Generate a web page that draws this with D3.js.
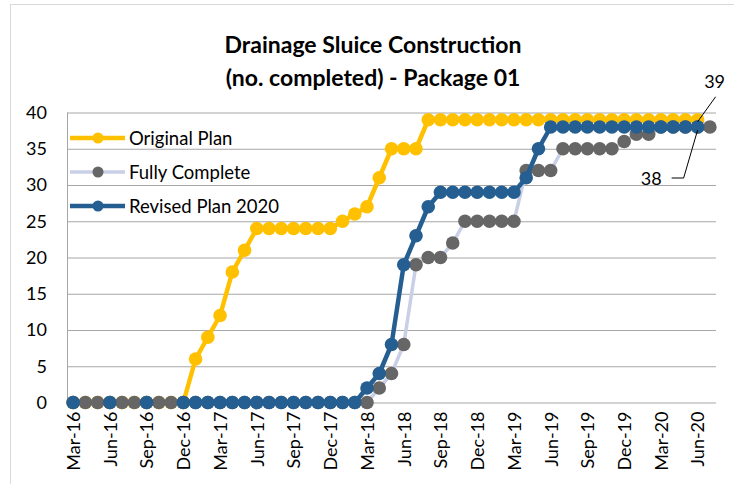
<!DOCTYPE html>
<html>
<head>
<meta charset="utf-8">
<script src="https://cdn.jsdelivr.net/npm/d3@7"></script>
<style>
  html, body { margin: 0; padding: 0; background: #fff; }
  svg { display: block; font-family: Lato, "Open Sans", sans-serif; }
</style>
</head>
<body>
<script>
// months Mar-16 .. Jul-20 (one point per month)
const months = d3.utcMonth.range(new Date(Date.UTC(2016, 2, 1)), new Date(Date.UTC(2020, 7, 1)))
    .map(d3.utcFormat('%b-%y'));
const tickMonths = months.filter((m, i) => i % 3 === 0 && i < 52); // Mar-16 .. Jun-20
const yTicks = [0, 5, 10, 15, 20, 25, 30, 35, 40];

const originalPlan = [
  0, 0, 0, 0, 0, 0, 0, 0, 0, 0,
  6, 9, 12, 18, 21,
  24, 24, 24, 24, 24, 24, 24,
  25, 26, 27, 31, 35, 35, 35,
  39, 39, 39, 39, 39, 39, 39, 39, 39, 39, 39, 39, 39, 39, 39, 39, 39, 39, 39, 39, 39, 39, 39,
  null
];
const fullyComplete = [
  0, 0, 0, 0, 0, 0, 0, 0, 0, 0, 0, 0, 0, 0, 0, 0, 0, 0, 0, 0, 0, 0, 0, 0, 0,
  2, 4, 8, 19, 20, 20, 22,
  25, 25, 25, 25, 25,
  32, 32, 32,
  35, 35, 35, 35, 35,
  36, 37, 37,
  38, 38, 38, 38, 38
];
const revisedPlan = [
  0, null, null, 0, null, null, 0, null, null,
  0, 0, 0, 0, 0, 0, 0, 0, 0, 0, 0, 0, 0, 0, 0,
  2, 4, 8, 19, 23, 27,
  29, 29, 29, 29, 29, 29, 29,
  31, 35,
  38, 38, 38, 38, 38, 38, 38, 38, 38, 38, 38, 38, 38,
  null
];

const series = [
  { name: 'Original Plan', values: originalPlan, line: '#ffc000', marker: '#ffc000', lw: 4.5 },
  { name: 'Fully Complete', values: fullyComplete, line: '#c8cfe6', marker: '#666666', lw: 3.5 },
  { name: 'Revised Plan 2020', values: revisedPlan, line: '#255e91', marker: '#255e91', lw: 4.5 }
];

const width = 734, height = 484;
const plot = { left: 67, right: 716, top: 112.5, bottom: 402.5 };

const svg = d3.select('body').append('svg')
    .attr('width', width)
    .attr('height', height)
    .attr('viewBox', [0, 0, width, height]);

svg.append('rect')
    .attr('x', 10.5).attr('y', 4.5)
    .attr('width', width + 10).attr('height', height + 10)
    .attr('fill', '#fff')
    .attr('stroke', '#d9d9d9');

const x = d3.scalePoint()
    .domain(months)
    .range([plot.left, plot.right])
    .padding(0.5);

const y = d3.scaleLinear()
    .domain([0, 40])
    .range([plot.bottom, plot.top]);

// gridlines
svg.append('g')
    .attr('transform', `translate(${plot.left},0)`)
    .call(d3.axisLeft(y).tickValues(yTicks).tickSize(-(plot.right - plot.left)).tickFormat(''))
    .call(g => g.select('.domain').remove())
    .call(g => g.selectAll('line').attr('stroke', '#a6a6a6'));

svg.append('line')
    .attr('x1', plot.left + 0.5).attr('x2', plot.left + 0.5)
    .attr('y1', plot.top).attr('y2', plot.bottom)
    .attr('stroke', '#a6a6a6');

// y labels
svg.append('g')
    .attr('transform', `translate(${plot.left},0)`)
    .call(d3.axisLeft(y).tickValues(yTicks).tickSize(0).tickPadding(20))
    .call(g => g.select('.domain').remove())
    .call(g => g.selectAll('text').attr('font-size', 18).attr('fill', '#000').attr('font-family', 'Lato'));

// x labels
svg.append('g')
    .attr('transform', `translate(0,${plot.bottom})`)
    .call(d3.axisBottom(x).tickValues(tickMonths).tickSize(0))
    .call(g => g.select('.domain').remove())
    .call(g => g.selectAll('text')
        .attr('font-size', 18).attr('fill', '#000').attr('font-family', 'Lato')
        .attr('text-anchor', 'end')
        .attr('transform', 'rotate(-90)')
        .attr('x', -9).attr('y', 0).attr('dy', '0.35em'));

// series
const line = d3.line()
    .defined(d => d != null)
    .x((d, i) => x(months[i]))
    .y(d => y(d));

series.forEach(s => {
  svg.append('path')
      .datum(s.values)
      .attr('fill', 'none')
      .attr('stroke', s.line)
      .attr('stroke-width', s.lw)
      .attr('stroke-linejoin', 'round')
      .attr('d', line);
  svg.append('g')
    .selectAll('circle')
    .data(s.values.map((v, i) => ({ v, m: months[i] })).filter(d => d.v != null))
    .join('circle')
      .attr('cx', d => x(d.m))
      .attr('cy', d => y(d.v))
      .attr('r', 6.8)
      .attr('fill', s.marker);
});

// legend
const legend = svg.append('g').attr('transform', 'translate(70,138)');
series.forEach((s, i) => {
  const g = legend.append('g').attr('transform', `translate(0,${i * 34})`);
  g.append('line').attr('x1', 0).attr('x2', 55).attr('stroke', s.line).attr('stroke-width', s.lw);
  g.append('circle').attr('cx', 28).attr('r', 5.5).attr('fill', s.marker);
  g.append('text').attr('x', 59).attr('y', 7).attr('font-size', 18.5).text(s.name);
});

// title
const title = svg.append('text')
    .attr('text-anchor', 'middle')
    .attr('font-weight', 'bold')
    .attr('font-size', 23);
title.append('tspan').attr('x', 373).attr('y', 53).text('Drainage Sluice Construction');
title.append('tspan').attr('x', 373).attr('y', 86).text('(no. completed) - Package 01');

// data labels for the last planned points
const last = months[51];
const p39 = [x(last), y(originalPlan[51])];
const p38 = [x(last), y(revisedPlan[51])];
svg.append('path')
    .attr('d', `M${p39[0]},${p39[1] + 2}L${p39[0] + 18},${p39[1] - 23}`)
    .attr('stroke', '#000').attr('fill', 'none');
svg.append('text')
    .attr('x', p39[0] + 17).attr('y', p39[1] - 32)
    .attr('text-anchor', 'middle').attr('font-size', 18)
    .text(originalPlan[51]);
svg.append('path')
    .attr('d', `M${p38[0]},${p38[1] + 3}L${p38[0] - 14},${p38[1] + 51}L${p38[0] - 26},${p38[1] + 51}`)
    .attr('stroke', '#000').attr('fill', 'none');
svg.append('text')
    .attr('x', p38[0] - 36).attr('y', p38[1] + 58)
    .attr('text-anchor', 'end').attr('font-size', 18)
    .text(revisedPlan[51]);
</script>
</body>
</html>
